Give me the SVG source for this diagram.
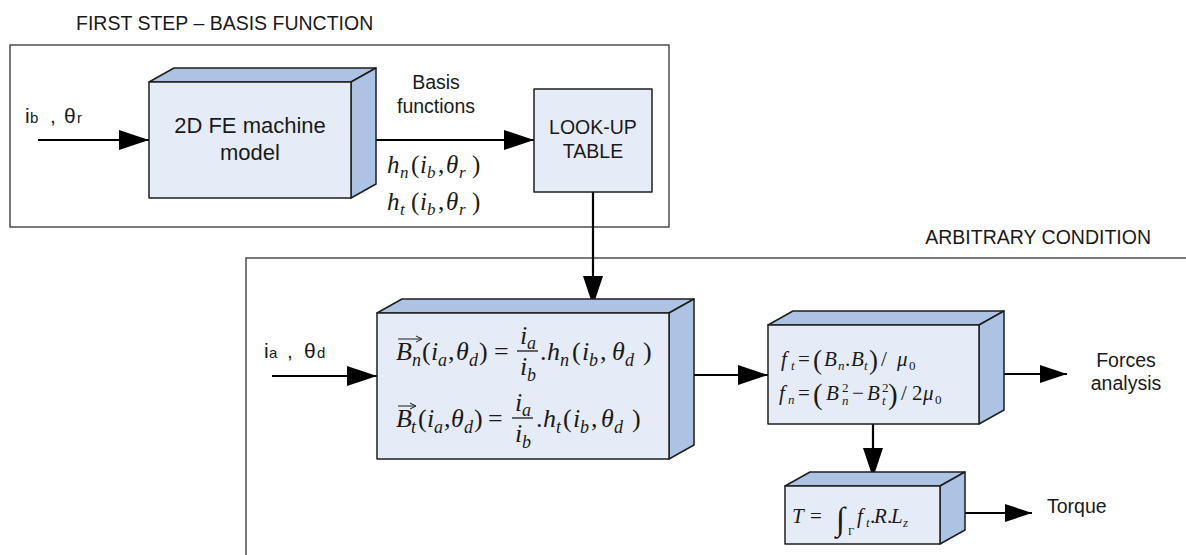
<svg xmlns="http://www.w3.org/2000/svg" width="1186" height="555" viewBox="0 0 1186 555">
  <style>
    .lbl { font-family: "Liberation Sans", Arial, sans-serif; fill: #1a1a1a; }
    .frame { fill: none; stroke: #333; stroke-width: 1.3; }
    .front { fill: #e5ecf7; stroke: #1f1f1f; stroke-width: 1.5; stroke-linejoin: round; }
    .side { fill: #adc3e3; stroke: #1f1f1f; stroke-width: 1.5; stroke-linejoin: round; }
    .wire { fill: none; stroke: #000; stroke-width: 2.2; }
    .m { font-family: "Liberation Serif", "Times New Roman", serif; fill: #1a1a1a; }
    .it { font-style: italic; }
    .acc { fill: none; stroke: #1a1a1a; stroke-width: 1; }
    .bar { stroke: #1a1a1a; stroke-width: 1.3; }
  </style>
  <defs>
    <marker id="head" markerUnits="userSpaceOnUse" markerWidth="30" markerHeight="20" refX="30" refY="10" orient="auto">
      <path d="M0,0 L30,10 L0,20 Z" fill="#000"/>
    </marker>
    <marker id="headS" markerUnits="userSpaceOnUse" markerWidth="27" markerHeight="18" refX="27" refY="9" orient="auto">
      <path d="M0,0 L27,9 L0,18 Z" fill="#000"/>
    </marker>
  </defs>

  <rect width="1186" height="555" fill="#fff"/>

  <!-- stage frames -->
  <g id="stage-basis">
    <rect class="frame" x="10" y="45" width="659" height="182"/>
    <text class="lbl" x="76" y="30" font-size="19.5">FIRST STEP – BASIS FUNCTION</text>
  </g>
  <g id="stage-arbitrary">
    <rect class="frame" x="246" y="258" width="1000" height="340"/>
    <text class="lbl" x="1151" y="244" font-size="19.5" text-anchor="end">ARBITRARY CONDITION</text>
  </g>

  <!-- connectors -->
  <g id="connectors">
    <line class="wire" x1="38" y1="140" x2="149" y2="140" marker-end="url(#head)"/>
    <line class="wire" x1="365" y1="140" x2="534" y2="140" marker-end="url(#head)"/>
    <line class="wire" x1="593" y1="192" x2="593" y2="306" marker-end="url(#head)"/>
    <line class="wire" x1="272" y1="376" x2="377" y2="376" marker-end="url(#head)"/>
    <line class="wire" x1="684" y1="375" x2="768" y2="375" marker-end="url(#head)"/>
    <line class="wire" x1="988" y1="374" x2="1067" y2="374" marker-end="url(#headS)"/>
    <line class="wire" x1="873" y1="424" x2="873" y2="478" marker-end="url(#head)"/>
    <line class="wire" x1="954" y1="513" x2="1032" y2="513" marker-end="url(#headS)"/>
  </g>

  <!-- input labels -->
  <g id="input-b" class="lbl">
    <text x="25" y="123" font-size="21">i</text>
    <text x="30" y="123" font-size="15">b</text>
    <text x="50" y="123" font-size="21">,</text>
    <text x="64" y="123" font-size="21">θ</text>
    <text x="77" y="123" font-size="15">r</text>
  </g>
  <g id="input-a" class="lbl">
    <text x="264" y="358" font-size="21">i</text>
    <text x="269" y="358" font-size="15">a</text>
    <text x="287" y="358" font-size="21">,</text>
    <text x="304" y="358" font-size="21">θ</text>
    <text x="317" y="358" font-size="15">d</text>
  </g>

  <!-- 2D FE machine model -->
  <g id="fe-model">
    <polygon class="side" points="149,82 174,68 376,68 351,82"/>
    <polygon class="side" points="351,82 376,68 376,184 351,198"/>
    <rect class="front" x="149" y="82" width="202" height="116"/>
    <text class="lbl" x="250" y="133" font-size="22" text-anchor="middle">2D FE machine</text>
    <text class="lbl" x="250" y="160" font-size="22" text-anchor="middle">model</text>
  </g>

  <!-- basis functions carried by the connector -->
  <g id="basis-label">
    <text class="lbl" x="436" y="89" font-size="19.5" text-anchor="middle">Basis</text>
    <text class="lbl" x="436" y="113" font-size="19.5" text-anchor="middle">functions</text>
    <text class="m" y="173" font-size="25"><tspan class="it" x="387">h</tspan><tspan class="it" x="400" y="178" font-size="17">n</tspan><tspan x="411" y="173">(</tspan><tspan class="it" x="420">i</tspan><tspan class="it" x="427" y="178" font-size="17">b</tspan><tspan x="438" y="173">,</tspan><tspan class="it" x="446">θ</tspan><tspan class="it" x="459" y="178" font-size="17">r</tspan><tspan x="472" y="173">)</tspan></text>
    <text class="m" y="210" font-size="25"><tspan class="it" x="387">h</tspan><tspan class="it" x="400" y="215" font-size="17">t</tspan><tspan x="411" y="210">(</tspan><tspan class="it" x="420">i</tspan><tspan class="it" x="427" y="215" font-size="17">b</tspan><tspan x="438" y="210">,</tspan><tspan class="it" x="446">θ</tspan><tspan class="it" x="459" y="215" font-size="17">r</tspan><tspan x="472" y="210">)</tspan></text>
  </g>

  <!-- look-up table -->
  <g id="lookup">
    <rect class="front" x="534" y="89" width="118" height="103"/>
    <text class="lbl" x="593" y="134" font-size="19.5" text-anchor="middle">LOOK-UP</text>
    <text class="lbl" x="593" y="158" font-size="19.5" text-anchor="middle">TABLE</text>
  </g>

  <!-- field scaling block -->
  <g id="field-scaling">
    <polygon class="side" points="377,313 402,299 694,299 669,313"/>
    <polygon class="side" points="669,313 694,299 694,445 669,459"/>
    <rect class="front" x="377" y="313" width="292" height="146"/>
    <!-- Bn row -->
    <path class="acc" d="M398,339 H421 M416,336 L422,339 L416,342"/>
    <text class="m" y="360" font-size="26"><tspan class="it" x="396">B</tspan><tspan class="it" x="412" y="366" font-size="18">n</tspan><tspan x="422" y="360">(</tspan><tspan class="it" x="431">i</tspan><tspan class="it" x="438" y="366" font-size="18">a</tspan><tspan x="448" y="360">,</tspan><tspan class="it" x="456">θ</tspan><tspan class="it" x="469" y="366" font-size="18">d</tspan><tspan x="479" y="360">)</tspan><tspan x="494">=</tspan></text>
    <text class="m it" y="344" font-size="26"><tspan x="520">i</tspan><tspan x="527" y="349" font-size="18">a</tspan></text>
    <line class="bar" x1="517" y1="351" x2="538" y2="351"/>
    <text class="m it" y="375" font-size="26"><tspan x="520">i</tspan><tspan x="527" y="381" font-size="18">b</tspan></text>
    <text class="m" y="360" font-size="26"><tspan x="540">.</tspan><tspan class="it" x="547">h</tspan><tspan class="it" x="560" y="366" font-size="18">n</tspan><tspan x="572" y="360">(</tspan><tspan class="it" x="582">i</tspan><tspan class="it" x="589" y="366" font-size="18">b</tspan><tspan x="600" y="360">,</tspan><tspan class="it" x="612">θ</tspan><tspan class="it" x="625" y="366" font-size="18">d</tspan><tspan x="643" y="360">)</tspan></text>
    <!-- Bt row -->
    <path class="acc" d="M398,406 H415 M410,403 L416,406 L410,409"/>
    <text class="m" y="427" font-size="26"><tspan class="it" x="396">B</tspan><tspan class="it" x="411" y="433" font-size="18">t</tspan><tspan x="418" y="427">(</tspan><tspan class="it" x="427">i</tspan><tspan class="it" x="434" y="433" font-size="18">a</tspan><tspan x="444" y="427">,</tspan><tspan class="it" x="451">θ</tspan><tspan class="it" x="464" y="433" font-size="18">d</tspan><tspan x="474" y="427">)</tspan><tspan x="488">=</tspan></text>
    <text class="m it" y="411" font-size="26"><tspan x="515">i</tspan><tspan x="522" y="416" font-size="18">a</tspan></text>
    <line class="bar" x1="512" y1="418" x2="533" y2="418"/>
    <text class="m it" y="442" font-size="26"><tspan x="515">i</tspan><tspan x="522" y="448" font-size="18">b</tspan></text>
    <text class="m" y="427" font-size="26"><tspan x="536">.</tspan><tspan class="it" x="543">h</tspan><tspan class="it" x="556" y="433" font-size="18">t</tspan><tspan x="563" y="427">(</tspan><tspan class="it" x="573">i</tspan><tspan class="it" x="580" y="433" font-size="18">b</tspan><tspan x="591" y="427">,</tspan><tspan class="it" x="601">θ</tspan><tspan class="it" x="614" y="433" font-size="18">d</tspan><tspan x="632" y="427">)</tspan></text>
  </g>

  <!-- magnetic stress block -->
  <g id="stress">
    <polygon class="side" points="768,325 793,311 1004,311 979,325"/>
    <polygon class="side" points="979,325 1004,311 1004,410 979,424"/>
    <rect class="front" x="768" y="325" width="211" height="99"/>
    <text class="m" y="366" font-size="21"><tspan class="it" x="781">f</tspan><tspan class="it" x="791" y="370" font-size="13">t</tspan><tspan x="798" y="366">=</tspan><tspan x="813" y="369" font-size="27">(</tspan><tspan class="it" x="824" y="366">B</tspan><tspan class="it" x="838" y="370" font-size="13">n</tspan><tspan x="845" y="366">.</tspan><tspan class="it" x="851">B</tspan><tspan class="it" x="864" y="370" font-size="13">t</tspan><tspan x="869" y="369" font-size="27">)</tspan><tspan x="881" y="366">/</tspan><tspan class="it" x="897">μ</tspan><tspan x="909" y="370" font-size="13">0</tspan></text>
    <text class="m" y="400" font-size="21"><tspan class="it" x="779">f</tspan><tspan class="it" x="788" y="404" font-size="13">n</tspan><tspan x="798" y="400">=</tspan><tspan x="813" y="404" font-size="29">(</tspan><tspan class="it" x="826" y="400">B</tspan><tspan x="842" y="392" font-size="13">2</tspan><tspan class="it" x="842" y="405" font-size="13">n</tspan><tspan x="852" y="400">−</tspan><tspan class="it" x="867">B</tspan><tspan x="882" y="392" font-size="13">2</tspan><tspan class="it" x="882" y="405" font-size="13">t</tspan><tspan x="888" y="404" font-size="29">)</tspan><tspan x="901" y="400">/</tspan><tspan x="912">2</tspan><tspan class="it" x="923">μ</tspan><tspan x="935" y="404" font-size="13">0</tspan></text>
  </g>

  <!-- torque block -->
  <g id="torque">
    <polygon class="side" points="785,486 810,472 965,472 940,486"/>
    <polygon class="side" points="940,486 965,472 965,530 940,544"/>
    <rect class="front" x="785" y="486" width="155" height="58"/>
    <text class="m" y="523" font-size="21"><tspan class="it" x="792">T</tspan><tspan x="810">=</tspan><tspan x="836" y="530" font-size="33">∫</tspan><tspan x="848" y="535" font-size="11">Γ</tspan><tspan class="it" x="857" y="523">f</tspan><tspan class="it" x="866" y="527" font-size="13">t</tspan><tspan x="870" y="523">.</tspan><tspan class="it" x="874">R</tspan><tspan x="887">.</tspan><tspan class="it" x="891">L</tspan><tspan class="it" x="903" y="527" font-size="13">z</tspan></text>
  </g>

  <!-- outputs -->
  <g id="out-forces">
    <text class="lbl" x="1126" y="367" font-size="19.5" text-anchor="middle">Forces</text>
    <text class="lbl" x="1126" y="390" font-size="19.5" text-anchor="middle">analysis</text>
  </g>
  <g id="out-torque">
    <text class="lbl" x="1047" y="513" font-size="19.5">Torque</text>
  </g>
</svg>
